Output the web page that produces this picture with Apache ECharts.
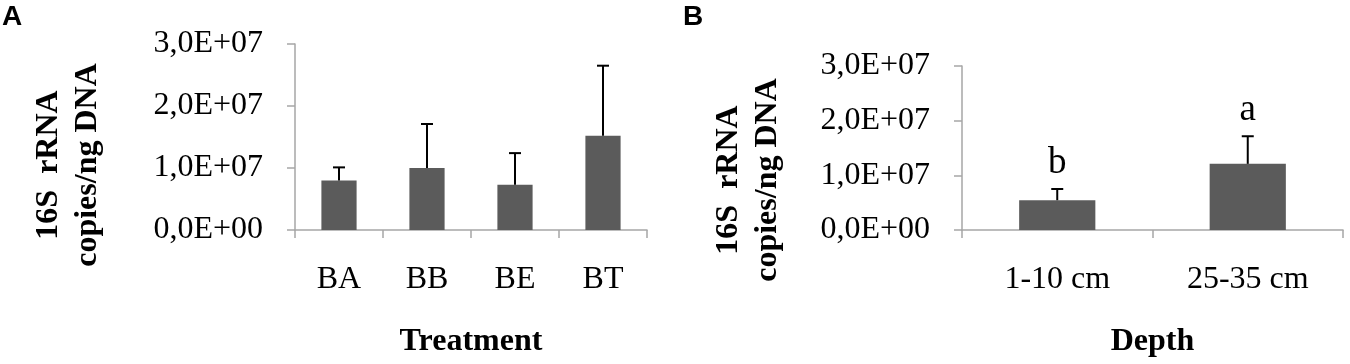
<!DOCTYPE html>
<html>
<head>
<meta charset="utf-8">
<script src="https://cdn.jsdelivr.net/npm/echarts@6/dist/echarts.min.js"></script>
<style>
  html, body { margin: 0; padding: 0; background: #fff; }
  #main { width: 1350px; height: 364px; }
</style>
</head>
<body>
<div id="main"></div>
<script>
// panel A: treatment
var treatCats = ['BA', 'BB', 'BE', 'BT'];
var treatMeans = [8.0e6, 1.0e7, 7.3e6, 1.52e7];
var treatErr = [2.1e6, 7.1e6, 5.1e6, 1.13e7];

// panel B: depth
var depthCats = ['1-10 cm', '25-35 cm'];
var depthMeans = [5.45e6, 1.21e7];
var depthErr = [2.05e6, 5.05e6];
var depthLetters = ['b', 'a'];

// y ticks
var yTickValues = [0, 1e7, 2e7, 3e7];
var yTickLabels = ['0,0E+00', '1,0E+07', '2,0E+07', '3,0E+07'];

var serif = 'Liberation Serif';
var axisGrey = '#a6a6a6';
var barColor = '#5b5b5b';

function yLabel(v) {
	var i = yTickValues.indexOf(v);
	return i >= 0 ? yTickLabels[i] : '';
}

function makeY(idx) {
	return {
		type : 'value',
		gridIndex : idx,
		min : 0,
		max : 3e7,
		interval : 1e7,
		axisLine : { show : true, lineStyle : { color : axisGrey, width : 1.5 } },
		axisTick : { show : true, length : 8, lineStyle : { color : axisGrey, width : 1.5 } },
		splitLine : { show : false },
		axisLabel : {
			margin : 32,
			color : '#000',
			fontFamily : serif,
			fontSize : 32,
			formatter : yLabel
		}
	};
}

function makeX(idx, cats, name) {
	return {
		type : 'category',
		gridIndex : idx,
		data : cats,
		name : name,
		nameLocation : 'middle',
		nameGap : 96,
		nameTextStyle : { color : '#000', fontFamily : serif, fontWeight : 'bold', fontSize : 32 },
		axisLine : { show : true, lineStyle : { color : axisGrey, width : 1.5 } },
		axisTick : { show : true, length : 8, lineStyle : { color : axisGrey, width : 1.5 } },
		axisLabel : {
			margin : 34,
			color : '#000',
			fontFamily : serif,
			fontSize : 32
		}
	};
}

function errSeries(idx, means, errs, letters) {
	var data = means.map(function(m, i) { return [i, m, m + errs[i]]; });
	return {
		type : 'custom',
		xAxisIndex : idx,
		yAxisIndex : idx,
		z : 5,
		data : data,
		renderItem : function(params, api) {
			var x = api.coord([api.value(0), api.value(1)]);
			var top = api.coord([api.value(0), api.value(2)]);
			var cap = 6;
			var style = { stroke : '#000', lineWidth : 2 };
			var kids = [
				{ type : 'line', shape : { x1 : x[0], y1 : x[1], x2 : top[0], y2 : top[1] }, style : style },
				{ type : 'line', shape : { x1 : top[0] - cap, y1 : top[1], x2 : top[0] + cap, y2 : top[1] }, style : style }
			];
			if (letters) {
				kids.push({
					type : 'text',
					x : top[0],
					y : top[1] - 7,
					style : {
						text : letters[params.dataIndex],
						textAlign : 'center',
						textVerticalAlign : 'bottom',
						fill : '#000',
						font : '37px "Liberation Serif"'
					}
				});
			}
			return { type : 'group', children : kids };
		}
	};
}

function yName(x, y) {
	return {
		type : 'text',
		x : x,
		y : y,
		rotation : Math.PI / 2,
		style : {
			text : '16S  rRNA\ncopies/ng DNA',
			textAlign : 'center',
			textVerticalAlign : 'middle',
			lineHeight : 39,
			fill : '#000',
			font : 'bold 32px "Liberation Serif"'
		}
	};
}

var chart = echarts.init(document.getElementById('main'), null, { renderer : 'canvas' });
var option = {
	animation : false,
	backgroundColor : '#fff',
	grid : [
		{ left : 295, width : 352, top : 44, height : 186 },
		{ left : 962, width : 381, top : 66, height : 164 }
	],
	xAxis : [ makeX(0, treatCats, 'Treatment'), makeX(1, depthCats, 'Depth') ],
	yAxis : [ makeY(0), makeY(1) ],
	graphic : [
		{ type : 'text', x : 2, y : 3, style : { text : 'A', fill : '#000', font : 'bold 28px "Liberation Sans"' } },
		{ type : 'text', x : 683, y : 3, style : { text : 'B', fill : '#000', font : 'bold 28px "Liberation Sans"' } },
		yName(68, 165),
		yName(748, 180)
	],
	series : [
		{
			type : 'bar',
			xAxisIndex : 0,
			yAxisIndex : 0,
			barWidth : '40%',
			itemStyle : { color : barColor },
			data : treatMeans
		},
		errSeries(0, treatMeans, treatErr, null),
		{
			type : 'bar',
			xAxisIndex : 1,
			yAxisIndex : 1,
			barWidth : '40%',
			itemStyle : { color : barColor },
			data : depthMeans
		},
		errSeries(1, depthMeans, depthErr, depthLetters)
	]
};
chart.setOption(option);
</script>
</body>
</html>
